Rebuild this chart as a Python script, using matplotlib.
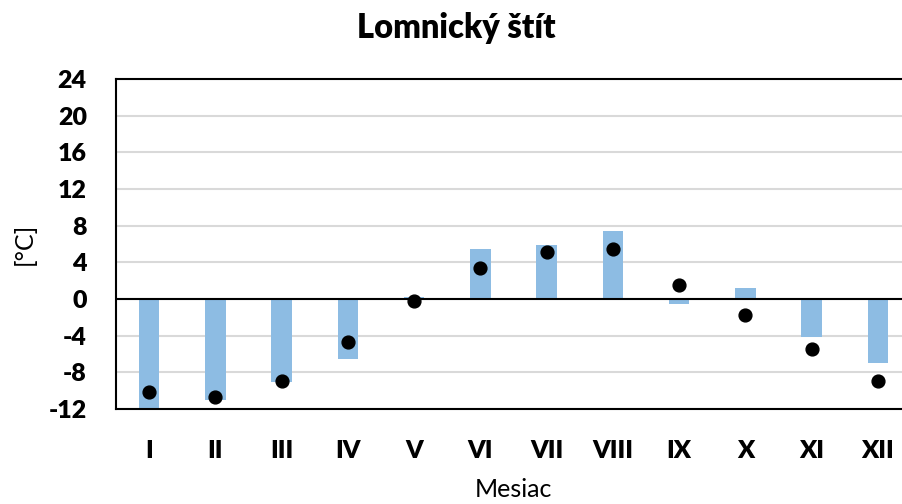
import numpy as np
import matplotlib
matplotlib.use("Agg")
import matplotlib.pyplot as plt

plt.rcParams['font.family'] = ['Lato', 'DejaVu Sans']

mesiace = ['I', 'II', 'III', 'IV', 'V', 'VI', 'VII', 'VIII', 'IX', 'X', 'XI', 'XII']
# stlpce (odchylka) a body
stlpce = [-11.9, -11.0, -9.0, -6.5, 0.2, 5.5, 5.9, 7.4, -0.5, 1.2, -4.1, -7.0]
body = [-10.1, -10.7, -8.9, -4.7, -0.2, 3.4, 5.1, 5.5, 1.5, -1.7, -5.4, -8.9]
yticks = [-12, -8, -4, 0, 4, 8, 12, 16, 20, 24]

fig = plt.figure(figsize=(9.03, 5.04), dpi=100)
ax = fig.add_axes([116/903, 95/504, 795/903, 330/504])

x = np.arange(len(mesiace))
ax.bar(x, stlpce, width=0.31, color='#8dbce3', zorder=2)
ax.scatter(x, body, s=85, color='black', zorder=4)
ax.axhline(0, color='black', lw=1.5, zorder=3)

ax.set_xlim(-0.5, 11.5)
ax.set_ylim(-12, 24)
ax.set_yticks(yticks)
ax.set_yticklabels([str(v) for v in yticks], fontsize=18, fontweight='heavy')
ax.set_xticks(x)
ax.set_xticklabels(mesiace, fontsize=18, fontweight='heavy')
ax.tick_params(axis='y', length=0, pad=21)
ax.tick_params(axis='x', length=0, pad=22)
ax.grid(axis='y', color='#d9d9d9', lw=1.5, zorder=0)
ax.set_axisbelow(True)

for s in ['left', 'top', 'bottom']:
    ax.spines[s].set_linewidth(1.5)
    ax.spines[s].set_color('black')
ax.spines['right'].set_visible(False)

ax.set_xlabel('Mesiac', fontsize=18, labelpad=12)
ax.set_ylabel('[°C]', fontsize=18, labelpad=9)
fig.text(456/903, 1 - 28/504, 'Lomnický štít', ha='center', va='center',
         fontsize=23.5, fontweight='heavy')

fig.savefig('out.png', dpi=100)
